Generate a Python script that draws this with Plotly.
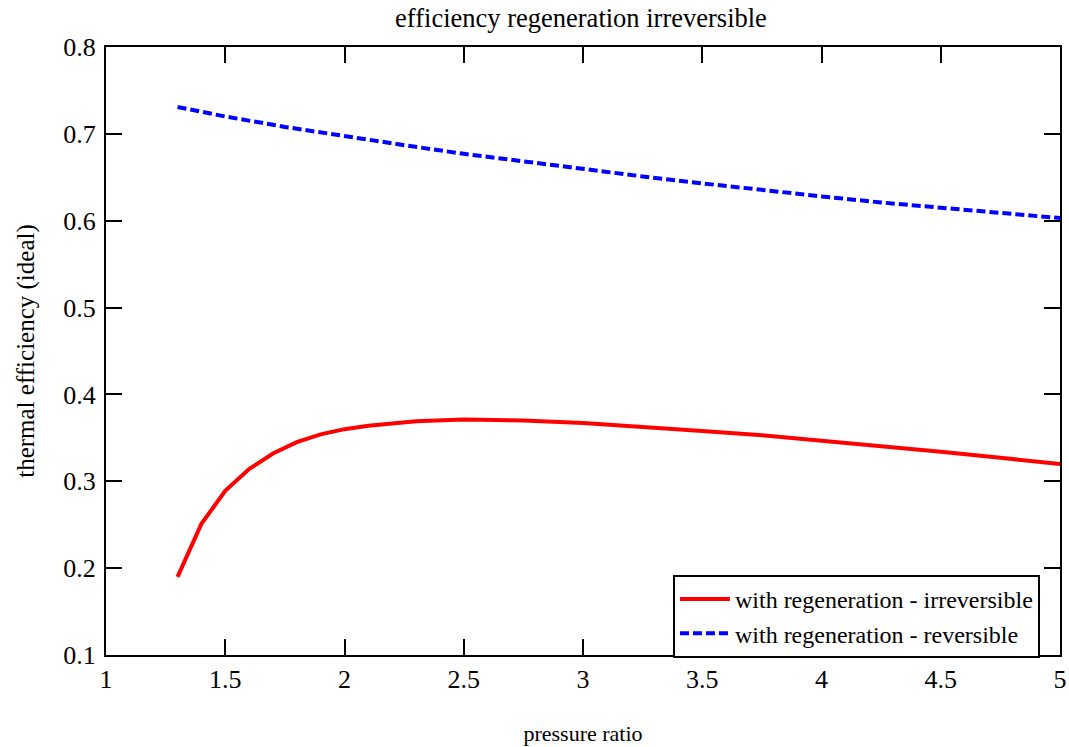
import plotly.graph_objects as go

# irreversible (with regeneration)
x_irr = [1.3, 1.4, 1.5, 1.6, 1.7, 1.8, 1.9, 2.0, 2.1, 2.2, 2.3, 2.5, 2.75, 3.0, 3.25, 3.5, 3.75, 4.0, 4.25, 4.5, 4.75, 5.0]
y_irr = [0.190, 0.251, 0.289, 0.314, 0.332, 0.345, 0.354, 0.360, 0.364, 0.367, 0.369, 0.371, 0.370, 0.367, 0.363, 0.358, 0.353, 0.347, 0.341, 0.334, 0.327, 0.320]

# reversible (with regeneration)
x_rev = [1.3, 1.5, 1.75, 2.0, 2.25, 2.5, 2.75, 3.0, 3.25, 3.5, 3.75, 4.0, 4.25, 4.5, 4.75, 5.0]
y_rev = [0.731, 0.720, 0.708, 0.697, 0.687, 0.677, 0.668, 0.659, 0.651, 0.643, 0.635, 0.628, 0.621, 0.615, 0.609, 0.603]

x_ticks = [1, 1.5, 2, 2.5, 3, 3.5, 4, 4.5, 5]
y_ticks = [0.1, 0.2, 0.3, 0.4, 0.5, 0.6, 0.7, 0.8]

FONT = "Liberation Serif"

fig = go.Figure()
fig.add_trace(go.Scatter(x=x_irr, y=y_irr, mode="lines",
                         name="with regeneration - irreversible",
                         line=dict(color="#ff0000", width=4)))
fig.add_trace(go.Scatter(x=x_rev, y=y_rev, mode="lines",
                         name="with regeneration - reversible",
                         line=dict(color="#0000ff", width=4, dash="9px,4px")))

axis_common = dict(
    showgrid=False, zeroline=False, showline=True, linecolor="black", linewidth=2,
    mirror="allticks", ticks="inside", ticklen=16, tickwidth=2, tickcolor="black",
    tickfont=dict(family=FONT, size=26, color="black"), automargin=False,
)

fig.update_layout(
    width=1069, height=747,
    paper_bgcolor="white", plot_bgcolor="white",
    margin=dict(l=106, r=9, t=47, b=92),
    title=dict(text="efficiency regeneration irreversible", x=0.5435, xanchor="center",
               y=0.976, yanchor="middle", yref="container",
               font=dict(family=FONT, size=26.5, color="black")),
    font=dict(family=FONT, size=25, color="black"),
    xaxis=dict(range=[1, 5], tickvals=x_ticks, ticktext=[f"{v:g}" for v in x_ticks],
               ticklabelstandoff=0,
               title=dict(text="pressure ratio", font=dict(family=FONT, size=22), standoff=32),
               **axis_common),
    yaxis=dict(range=[0.1, 0.8], tickvals=y_ticks, ticktext=[f"{v:g}" for v in y_ticks],
               ticklabelstandoff=3,
               title=dict(text="thermal efficiency (ideal)", font=dict(family=FONT, size=25), standoff=22),
               **axis_common),
    legend=dict(x=0.5943, y=0.1316, xanchor="left", yanchor="top",
                bgcolor="white", bordercolor="black", borderwidth=2,
                font=dict(family=FONT, size=24, color="black"),
                tracegroupgap=0, itemwidth=50),
    showlegend=True,
)

fig.write_html("out.html", config={"displayModeBar": False},
               post_script="document.body.style.margin='0';document.body.style.padding='0';")
